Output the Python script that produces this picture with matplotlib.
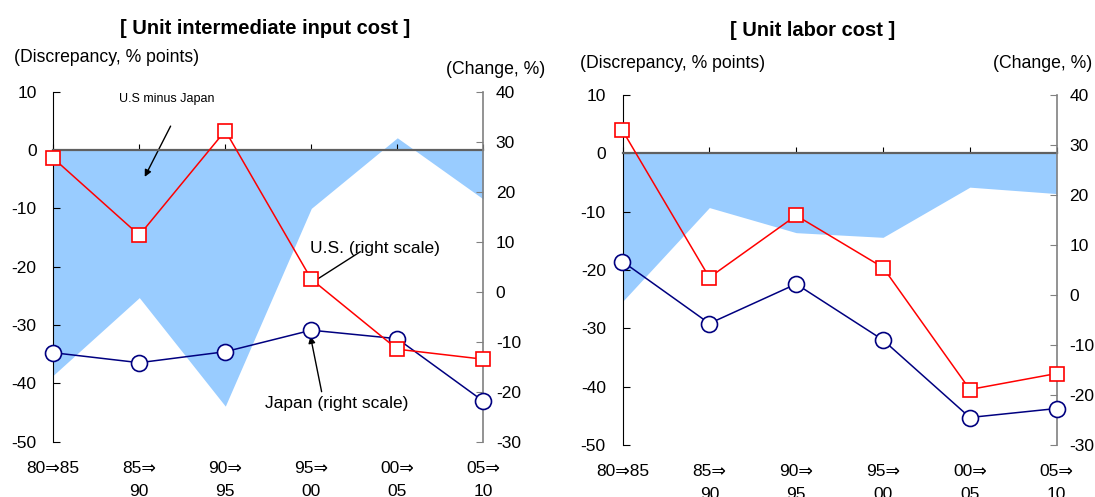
import matplotlib
matplotlib.use('Agg')
import matplotlib.pyplot as plt

plt.rcParams['font.family'] = ['Liberation Sans', 'DejaVu Sans']
plt.rcParams['axes.unicode_minus'] = False

# данные
periods = ['80⇒85', '85⇒\n90', '90⇒\n95', '95⇒\n00', '00⇒\n05', '05⇒\n10']

# левая панель: Unit intermediate input cost
inp_gap = [-38.6, -25.3, -43.9, -10.0, 2.1, -8.4]      # левая шкала
inp_us = [26.7, 11.3, 32.2, 2.5, -11.5, -13.5]         # правая шкала
inp_japan = [-12.2, -14.2, -12.0, -7.7, -9.4, -21.9]   # правая шкала

# правая панель: Unit labor cost
lab_gap = [-25.4, -9.3, -13.6, -14.4, -5.8, -6.9]
lab_us = [32.9, 3.5, 15.9, 5.5, -18.9, -15.7]
lab_japan = [6.7, -5.7, 2.2, -9.0, -24.5, -22.7]

left_ticks = [10, 0, -10, -20, -30, -40, -50]
right_ticks = [40, 30, 20, 10, 0, -10, -20, -30]

W, H = 1095, 497
fig = plt.figure(figsize=(W / 100, H / 100), dpi=100)

FS = 12.5
x = list(range(len(periods)))


def panel(rect, gap, us, japan):
    ax = fig.add_axes(rect)
    ax.fill_between(x, 0, gap, color='#99CCFF', lw=0, zorder=1)
    ax.set_xlim(0, len(x) - 1)
    ax.set_ylim(-50, 10)
    ax.set_yticks(left_ticks)
    ax.tick_params(axis='y', direction='in', length=5, labelsize=FS, pad=12)
    ax.spines['left'].set_color('black')
    ax.spines['top'].set_visible(False)
    ax.spines['right'].set_visible(False)
    ax.spines['bottom'].set_position(('data', 0))
    ax.spines['bottom'].set_color('#606060')
    ax.spines['bottom'].set_linewidth(1.6)
    ax.spines['bottom'].set_zorder(3)
    ax.set_xticks(x)
    ax.set_xticklabels([])
    ax.tick_params(axis='x', direction='in', length=4, color='black')
    ax.patch.set_visible(False)

    sec = ax.secondary_xaxis(0.0)
    sec.set_xticks(x)
    sec.set_xticklabels(periods, fontsize=FS, linespacing=1.65)
    sec.tick_params(length=0, pad=14)
    sec.spines['bottom'].set_visible(False)
    for lab in sec.get_xticklabels():
        lab.set_verticalalignment('top')

    ax2 = ax.twinx()
    ax2.set_ylim(-30, 40)
    ax2.set_yticks(right_ticks)
    ax2.tick_params(axis='y', direction='in', length=5, labelsize=FS, color='#808080', pad=9)
    for s in ['top', 'bottom', 'left']:
        ax2.spines[s].set_visible(False)
    ax2.spines['right'].set_color('#808080')
    ax2.spines['right'].set_linewidth(1.2)
    ax2.plot(x, japan, color='#000080', lw=1.1, marker='o', markersize=11.5,
             markerfacecolor='white', markeredgecolor='#000080', markeredgewidth=1.2,
             clip_on=False, zorder=4)
    ax2.plot(x, us, color='#FF0000', lw=1.1, marker='s', markersize=10.5,
             markerfacecolor='white', markeredgecolor='#FF0000', markeredgewidth=1.2,
             clip_on=False, zorder=5)
    return ax, ax2


ax_a, ax_a2 = panel([53.3 / W, 1 - 441.7 / H, 430 / W, 350 / H], inp_gap, inp_us, inp_japan)
ax_b, ax_b2 = panel([622.5 / W, 1 - 445 / H, 434.2 / W, 350 / H], lab_gap, lab_us, lab_japan)

# подписи и стрелки на левой панели
arr = dict(arrowstyle='-|>', color='black', lw=1, mutation_scale=10, shrinkA=0, shrinkB=0)
ax_a.text(1.32, 8.7, 'U.S minus Japan', fontsize=9, ha='center', va='center')
ax_a.annotate('', xy=(1.063, -4.6), xytext=(1.364, 4.1), arrowprops=arr)
ax_a2.text(2.98, 8.7, 'U.S. (right scale)', fontsize=FS, ha='left', va='center')
ax_a2.annotate('', xy=(2.97, 1.4), xytext=(3.57, 8.0), arrowprops=arr)
ax_a2.text(3.29, -22.3, 'Japan (right scale)', fontsize=FS, ha='center', va='center')
ax_a2.annotate('', xy=(2.99, -8.9), xytext=(3.12, -20.0), arrowprops=arr)

# заголовки и единицы измерения
fig.text(265 / W, 1 - 28 / H, '[ Unit intermediate input cost ]', fontsize=14.5,
         fontweight='bold', ha='center', va='center')
fig.text(813 / W, 1 - 30 / H, '[ Unit labor cost ]', fontsize=14.5,
         fontweight='bold', ha='center', va='center')
fig.text(14 / W, 1 - 58 / H, '(Discrepancy, % points)', fontsize=12.7, ha='left', va='center')
fig.text(545 / W, 1 - 70 / H, '(Change, %)', fontsize=12.7, ha='right', va='center')
fig.text(580 / W, 1 - 63 / H, '(Discrepancy, % points)', fontsize=12.7, ha='left', va='center')
fig.text(1092 / W, 1 - 63 / H, '(Change, %)', fontsize=12.7, ha='right', va='center')

fig.savefig('out.png', dpi=100)
